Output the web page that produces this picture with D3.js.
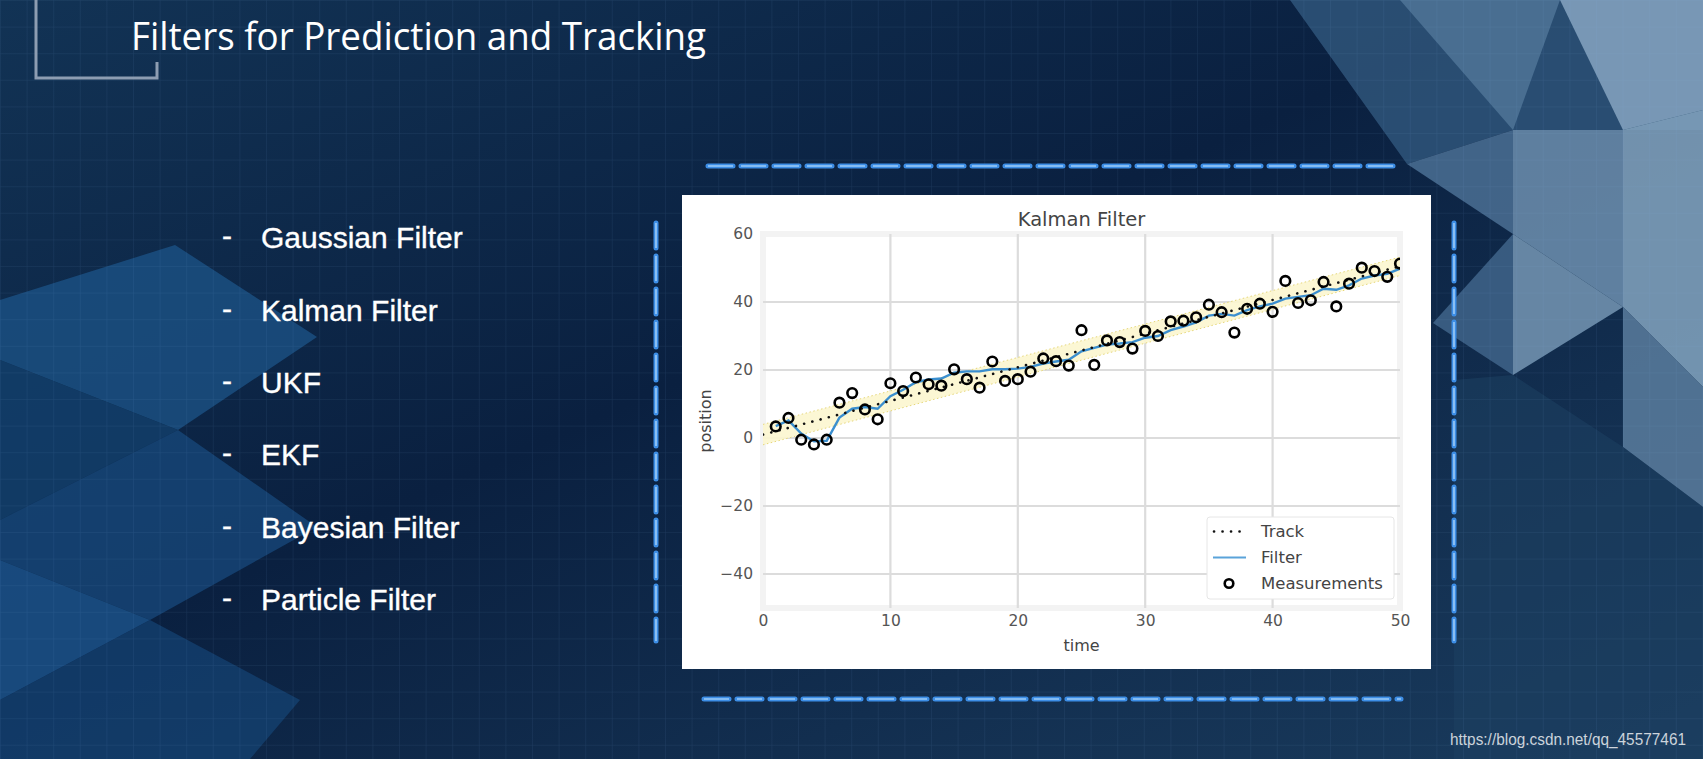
<!DOCTYPE html>
<html><head><meta charset="utf-8">
<script src="https://cdn.jsdelivr.net/npm/d3@7"></script>
<style>html,body{margin:0;padding:0;background:#0c2645;overflow:hidden}</style>
</head><body>
<svg id="s" width="1703" height="759"></svg>
<script>
// ---------- data ----------
const measurementTimes = [1,2,3,4,5,6,7,8,9,10,11,12,13,14,15,16,17,18,19,20,21,22,23,24,25,26,27,28,29,30,31,32,33,34,35,36,37,38,39,40,41,42,43,44,45,46,47,48,49,50];
const measurements = [3.4,5.9,-0.5,-1.9,-0.5,10.4,13.2,8.4,5.5,16.1,13.8,17.8,15.8,15.4,20.2,17.3,14.8,22.5,16.8,17.3,19.5,23.4,22.6,21.3,31.7,21.5,28.7,28.2,26.3,31.5,30.0,34.3,34.5,35.5,39.2,37.0,31.0,38.0,39.5,37.1,46.2,39.7,40.5,45.9,38.7,45.4,50.1,49.1,47.4,51.3];
const filterValues = [3.5,5.2,1.3,-1.0,-0.8,6.0,8.6,9.1,8.6,12.3,14.2,16.4,17.2,17.5,19.2,19.6,19.6,20.2,20.2,20.4,20.9,21.9,22.5,23.0,25.5,26.5,27.5,27.8,28.2,29.5,30.0,31.7,32.8,34.0,36.0,36.5,36.0,37.6,38.7,39.5,41.0,41.5,42.0,43.9,43.6,44.9,46.9,47.8,48.3,49.8];
const trackTimes = [0, 50];
const trackValues = [1.0, 50.5];
const bandLower = [-2.0, 47.8];
const bandUpper = [4.0, 53.2];
const xTicks = [0,10,20,30,40,50];
const yTicks = [-40,-20,0,20,40,60];
const legendLabels = ["Track","Filter","Measurements"];
const chartTitle = "Kalman Filter";
const xLabel = "time";
const yLabel = "position";
const slideTitle = "Filters for Prediction and Tracking";
const bulletItems = ["Gaussian Filter","Kalman Filter","UKF","EKF","Bayesian Filter","Particle Filter"];
const watermark = "https://blog.csdn.net/qq_45577461";

// ---------- background ----------
const svg = d3.select("#s");
const defs = svg.append("defs");
const bg = defs.append("linearGradient").attr("id","bg").attr("x1",0).attr("y1",0).attr("x2",1).attr("y2",1);
bg.append("stop").attr("offset","0").attr("stop-color","#123355");
bg.append("stop").attr("offset","0.45").attr("stop-color","#0a2040");
bg.append("stop").attr("offset","1").attr("stop-color","#1a3c5e");
svg.append("rect").attr("width",1703).attr("height",759).attr("fill","url(#bg)");

const facets = [
  {p:[[0,300],[175,245],[317,337],[178,430],[0,360]], c:"#1c5488", o:0.75},
  {p:[[0,360],[178,430],[0,520]], c:"#13426f", o:0.75},
  {p:[[178,430],[317,527],[150,620],[0,560],[0,520]], c:"#184c80", o:0.7},
  {p:[[0,560],[150,620],[0,700]], c:"#1d5790", o:0.75},
  {p:[[0,700],[150,620],[300,700],[250,759],[0,759]], c:"#15467a", o:0.65},
  {p:[[1290,0],[1703,0],[1703,130],[1513,130],[1407,164]], c:"#2f557a", o:0.85},
  {p:[[1400,0],[1560,0],[1513,130]], c:"#4f7497", o:0.85},
  {p:[[1560,0],[1703,0],[1703,110],[1623,130]], c:"#86a5c1", o:0.85},
  {p:[[1407,164],[1513,130],[1513,234]], c:"#4b7094", o:0.85},
  {p:[[1513,130],[1623,130],[1623,307],[1513,234]], c:"#6d8faf", o:0.85},
  {p:[[1513,234],[1623,307],[1513,375]], c:"#7696b4", o:0.85},
  {p:[[1433,323],[1513,234],[1513,375]], c:"#40648a", o:0.85},
  {p:[[1623,130],[1703,110],[1703,387],[1623,307]], c:"#84a4c0", o:0.85},
  {p:[[1623,307],[1703,387],[1703,507],[1623,447]], c:"#5b7d9e", o:0.85},
  {p:[[1454,380],[1513,375],[1623,447],[1703,507],[1703,759],[1454,759]], c:"#1c3f60", o:0.6}
];
svg.append("g").selectAll("polygon").data(facets).join("polygon")
  .attr("points", d => d.p.map(q => q.join(",")).join(" "))
  .attr("fill", d => d.c).attr("opacity", d => d.o);

const pat = defs.append("pattern").attr("id","grid").attr("width",26.6).attr("height",26.6).attr("patternUnits","userSpaceOnUse");
pat.append("path").attr("d","M26.6 0 L0 0 0 26.6").attr("fill","none").attr("stroke","rgba(130,180,230,0.13)").attr("stroke-width",1);
svg.append("rect").attr("width",1703).attr("height",759).attr("fill","url(#grid)");

// title bracket
svg.append("path").attr("d","M36 0 L36 78 L157 78 L157 62").attr("fill","none").attr("stroke","#8d9db2").attr("stroke-width",3);
svg.append("text").attr("x",131).attr("y",49.5).text(slideTitle)
  .attr("font-family","'Open Sans', sans-serif").attr("font-size",38).attr("fill","#ffffff")
  .attr("textLength",575).attr("lengthAdjust","spacingAndGlyphs");

// bullets
const bulletY = d3.scalePoint().domain(bulletItems).range([248.3, 610]);
const bl = svg.append("g").attr("font-family","'Liberation Sans', Arial, sans-serif").attr("fill","#ffffff")
  .attr("font-size",30).attr("stroke","#ffffff").attr("stroke-width",0.35);
bl.selectAll("text.d").data(bulletItems).join("text").attr("class","d").attr("x",222).attr("y",d=>bulletY(d)-2).text("-");
bl.selectAll("text.t").data(bulletItems).join("text").attr("class","t").attr("x",261).attr("y",d=>bulletY(d)).text(d=>d);

// glowing dashed frame
const glow = defs.append("filter").attr("id","glow").attr("x","-20%").attr("y","-20%").attr("width","140%").attr("height","140%");
glow.append("feGaussianBlur").attr("stdDeviation",3);
const frames = [[708,166,1401,166],[704,699,1401,699],[656,223,656,641],[1454,223,1454,641]];
const fg = svg.append("g");
frames.forEach(f => {
  fg.append("line").attr("x1",f[0]).attr("y1",f[1]).attr("x2",f[2]).attr("y2",f[3])
    .attr("stroke","#1f6fd6").attr("stroke-width",11).attr("opacity",0.75).attr("filter","url(#glow)");
  fg.append("line").attr("x1",f[0]).attr("y1",f[1]).attr("x2",f[2]).attr("y2",f[3])
    .attr("stroke","#3d8ee6").attr("stroke-width",5).attr("stroke-dasharray","25,8").attr("stroke-linecap","round");
  fg.append("line").attr("x1",f[0]).attr("y1",f[1]).attr("x2",f[2]).attr("y2",f[3])
    .attr("stroke","#9ccbf8").attr("stroke-width",1.6).attr("stroke-dasharray","25,8");
});

// watermark
svg.append("text").attr("x",1450).attr("y",745).text(watermark)
  .attr("font-family","'Liberation Sans', Arial, sans-serif").attr("font-size",16.5).attr("fill","rgba(255,255,255,0.78)")
  .attr("textLength",236).attr("lengthAdjust","spacingAndGlyphs");

// ---------- chart ----------
svg.append("rect").attr("x",682).attr("y",195).attr("width",749).attr("height",474).attr("fill","#ffffff");
const x = d3.scaleLinear().domain([0,50]).range([763,1400]);
const y = d3.scaleLinear().domain([-50,60]).range([608,234]);

svg.append("rect").attr("x",x(0)).attr("y",y(60)).attr("width",x(50)-x(0)).attr("height",y(-50)-y(60))
  .attr("fill","#ffffff").attr("stroke","#f3f3f3").attr("stroke-width",6);

const grid = svg.append("g").attr("stroke","#dcdcdc").attr("stroke-width",2.2);
grid.selectAll("line.v").data(xTicks.slice(1,-1)).join("line").attr("class","v")
  .attr("x1",d=>x(d)).attr("x2",d=>x(d)).attr("y1",y(60)).attr("y2",y(-50));
grid.selectAll("line.h").data(yTicks.slice(0,-1)).join("line").attr("class","h")
  .attr("x1",x(0)).attr("x2",x(50)).attr("y1",d=>y(d)).attr("y2",d=>y(d));

const axX = svg.append("g").attr("transform",`translate(0,${y(-50)})`)
  .call(d3.axisBottom(x).tickValues(xTicks).tickSize(0).tickPadding(7));
const axY = svg.append("g").attr("transform",`translate(${x(0)},0)`)
  .call(d3.axisLeft(y).tickValues(yTicks).tickSize(0).tickPadding(10));
[axX, axY].forEach(a => {
  a.select(".domain").remove();
  a.selectAll("text").attr("font-family","'DejaVu Sans', sans-serif").attr("font-size",15.5).attr("fill","#555555");
});

svg.append("text").attr("x",x(25)).attr("y",226).attr("text-anchor","middle").text(chartTitle)
  .attr("font-family","'DejaVu Sans', sans-serif").attr("font-size",19.5).attr("fill","#444444");
svg.append("text").attr("x",x(25)).attr("y",651).attr("text-anchor","middle").text(xLabel)
  .attr("font-family","'DejaVu Sans', sans-serif").attr("font-size",16).attr("fill","#444444");
svg.append("text").attr("transform",`translate(711,${(y(60)+y(-50))/2}) rotate(-90)`).attr("text-anchor","middle").text(yLabel)
  .attr("font-family","'DejaVu Sans', sans-serif").attr("font-size",16).attr("fill","#444444");

defs.append("clipPath").attr("id","plot").append("rect")
  .attr("x",x(0)).attr("y",y(60)).attr("width",x(50)-x(0)).attr("height",y(-50)-y(60));
const plot = svg.append("g").attr("clip-path","url(#plot)");

const bandData = trackTimes.map((t,i)=>({t, lo:bandLower[i], hi:bandUpper[i]}));
plot.append("path").datum(bandData)
  .attr("d", d3.area().x(d=>x(d.t)).y0(d=>y(d.lo)).y1(d=>y(d.hi)))
  .attr("fill","#fcf6cf").attr("opacity",0.9);
plot.append("path").datum(bandData).attr("d", d3.line().x(d=>x(d.t)).y(d=>y(d.lo)))
  .attr("fill","none").attr("stroke","#e6d77a").attr("stroke-width",1).attr("stroke-dasharray","1.5,2.5");
plot.append("path").datum(bandData).attr("d", d3.line().x(d=>x(d.t)).y(d=>y(d.hi)))
  .attr("fill","none").attr("stroke","#e6d77a").attr("stroke-width",1).attr("stroke-dasharray","1.5,2.5");

const filterData = measurementTimes.map((t,i)=>({t, v:filterValues[i]}));
plot.append("path").datum(filterData).attr("d", d3.line().x(d=>x(d.t)).y(d=>y(d.v)))
  .attr("fill","none").attr("stroke","#3b8fcf").attr("stroke-width",2.4);

const trackData = trackTimes.map((t,i)=>({t, v:trackValues[i]}));
plot.append("path").datum(trackData).attr("d", d3.line().x(d=>x(d.t)).y(d=>y(d.v)))
  .attr("fill","none").attr("stroke","#111").attr("stroke-width",2.6)
  .attr("stroke-dasharray","0.1,8.4").attr("stroke-linecap","round");

plot.selectAll("circle").data(measurementTimes.map((t,i)=>({t, v:measurements[i]}))).join("circle")
  .attr("cx",d=>x(d.t)).attr("cy",d=>y(d.v)).attr("r",4.8)
  .attr("fill","none").attr("stroke","#000").attr("stroke-width",2.6);

// legend
const lg = svg.append("g");
lg.append("rect").attr("x",1207).attr("y",517).attr("width",187).attr("height",82).attr("rx",3)
  .attr("fill","#ffffff").attr("stroke","#e6e6e6").attr("stroke-width",1);
const legY = d3.scalePoint().domain(legendLabels).range([531.5, 583.5]);
lg.append("line").attr("x1",1214).attr("x2",1245).attr("y1",legY("Track")).attr("y2",legY("Track"))
  .attr("stroke","#111").attr("stroke-width",2.6).attr("stroke-dasharray","0.1,8.4").attr("stroke-linecap","round");
lg.append("line").attr("x1",1213).attr("x2",1246).attr("y1",legY("Filter")).attr("y2",legY("Filter"))
  .attr("stroke","#5aa3da").attr("stroke-width",2.2);
lg.append("circle").attr("cx",1229).attr("cy",legY("Measurements")).attr("r",4.3)
  .attr("fill","none").attr("stroke","#000").attr("stroke-width",2.6);
lg.selectAll("text").data(legendLabels).join("text").attr("x",1261).attr("y",d=>legY(d)).attr("dy","0.36em").text(d=>d)
  .attr("font-family","'DejaVu Sans', sans-serif").attr("font-size",16.5).attr("fill","#444444");
</script>
</body></html>
